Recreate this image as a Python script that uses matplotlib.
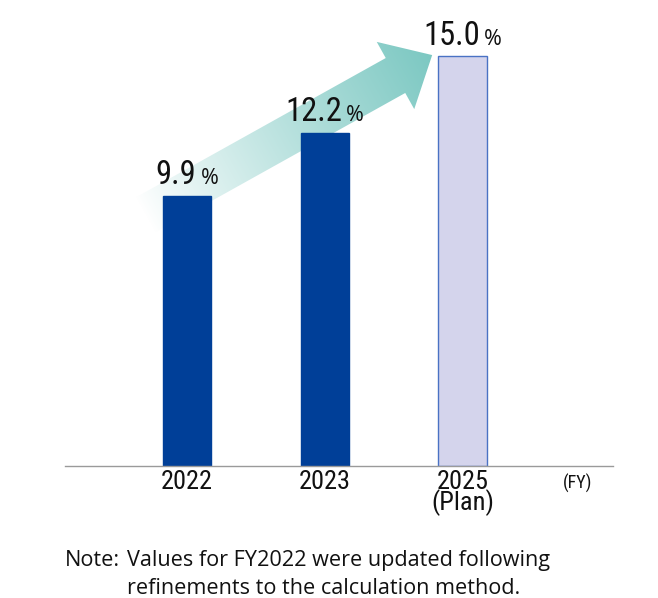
import numpy as np
import matplotlib
matplotlib.use("Agg")
import matplotlib.pyplot as plt
from matplotlib import font_manager
from matplotlib.font_manager import FontProperties
from matplotlib.patches import Polygon
from matplotlib.offsetbox import TextArea, HPacker, AnnotationBbox

# ---------------- data ----------------
categories = ["2022", "2023", "2025\n(Plan)"]
values = [9.9, 12.2, 15.0]
value_labels = ["9.9", "12.2", "15.0"]
bar_colors = ["#003f98", "#003f98", "#d4d4ec"]
edge_colors = ["#003f98", "#003f98", "#4a72c4"]
unit_label = "(FY)"
note_prefix = "Note:"
note_lines = ["Values for FY2022 were updated following",
              "refinements to the calculation method."]


# ---------------- fonts ----------------
def _is_regular(f):
    w = f.weight
    ok_w = (w in (400, "normal", "regular", "book", "Regular"))
    return f.style == "normal" and ok_w


def _is_condensed(f):
    st = f.stretch
    nm = f.name.lower()
    fn = f.fname.lower()
    if "narrow" in nm or "condensed" in nm or "narrow" in fn or "condensed" in fn:
        return True
    if isinstance(st, str) and "condensed" in st:
        return True
    if isinstance(st, (int, float)) and st < 500:
        return True
    return False


def find_condensed():
    prio = ["liberation sans narrow", "roboto condensed", "noto sans",
            "open sans", "dejavu sans"]
    cands = [f for f in font_manager.fontManager.ttflist
             if _is_regular(f) and _is_condensed(f)]
    for p in prio:
        for f in cands:
            if f.name.lower().startswith(p):
                low = f.fname.lower()
                if "extra" in low or "ultra" in low or "semi" in low:
                    continue
                return f.fname, True
    for f in cands:
        return f.fname, True
    return None, False


names = {f.name for f in font_manager.fontManager.ttflist}
cond_file, have_cond = find_condensed()
REG = "Open Sans" if "Open Sans" in names else "DejaVu Sans"


def narrow_fp(size):
    if have_cond:
        return FontProperties(fname=cond_file, size=size)
    fam = "Liberation Sans" if "Liberation Sans" in names else "DejaVu Sans"
    return FontProperties(family=fam, size=size * 0.85)


W, H = 658, 598
fig = plt.figure(figsize=(W / 100, H / 100), dpi=100)
fig.patch.set_facecolor("white")

# main axes
ax = fig.add_axes([65 / W, 1 - 466 / H, (613 - 65) / W, (466 - 10) / H])
ax.set_zorder(2)
ax.patch.set_alpha(0)
x = np.arange(len(values))
ax.set_xlim(-0.886, 3.093)
ax.set_ylim(0, 16.70)

ax.bar(x, values, width=0.35, color=bar_colors, edgecolor=edge_colors,
       linewidth=1.0, zorder=2)

for s in ["top", "right", "left"]:
    ax.spines[s].set_visible(False)
ax.spines["bottom"].set_color("#9a9a9a")
ax.spines["bottom"].set_linewidth(1.0)
ax.set_yticks([])
ax.set_xticks(x)
ax.set_xticklabels(categories, color="#111111", linespacing=0.78)
for lbl in ax.get_xticklabels():
    lbl.set_fontproperties(narrow_fp(19))
ax.tick_params(axis="x", length=0, pad=3)

ax.text((578 - 65) / 548, -(483 - 466) / 456, unit_label, transform=ax.transAxes,
        ha="center", va="center", fontproperties=narrow_fp(13), color="#111111")

# value labels
for xi, v, lab in zip(x, values, value_labels):
    t1 = TextArea(lab, textprops=dict(fontproperties=narrow_fp(23.5), color="#111111"))
    t2 = TextArea("%", textprops=dict(fontsize=15.5, family=REG, color="#111111"))
    pk = HPacker(children=[t1, t2], align="baseline", pad=0, sep=3)
    ab = AnnotationBbox(pk, (xi, v), xybox=(0, 3.5), xycoords="data",
                        boxcoords="offset points", box_alignment=(0.5, 0),
                        frameon=False, pad=0, zorder=5)
    ax.add_artist(ab)

# ---------------- gradient arrow (decoration, behind bars) ----------------
ov = fig.add_axes([0, 0, 1, 1], zorder=1)
ov.set_xlim(0, W)
ov.set_ylim(H, 0)
ov.axis("off")


def to_px(pt):
    dx, dy = ax.transData.transform(pt)
    return np.array([dx, H - dy])


tail = to_px((x[0] - 0.30, values[0] - 0.7))
tip = to_px((x[2] - 0.22, values[2] + 0.05))
vec = tip - tail
L = np.hypot(*vec)
u = vec / L
n = np.array([-u[1], u[0]])
head_len, shaft_hw, head_hw = 42, 20, 38.5
base = tip - head_len * u
pts = [tail + shaft_hw * n, base + shaft_hw * n, base + head_hw * n, tip,
       base - head_hw * n, base - shaft_hw * n, tail - shaft_hw * n]

yy, xx = np.mgrid[0:H, 0:W] + 0.5
tt = np.clip(((xx - tail[0]) * u[0] + (yy - tail[1]) * u[1]) / L, 0, 1)
c0 = np.array([1.0, 1.0, 1.0])
c1 = np.array(matplotlib.colors.to_rgb("#7cc8c2"))
g = tt ** 0.9
img = (1 - g)[..., None] * c0 + g[..., None] * c1
im = ov.imshow(img, extent=[0, W, H, 0], origin="upper", interpolation="bilinear")
ov.set_aspect("auto")
ov.set_xlim(0, W)
ov.set_ylim(H, 0)
poly = Polygon(pts, closed=True, facecolor="none", edgecolor="none")
ov.add_patch(poly)
im.set_clip_path(poly)

# ---------------- note ----------------
fig.text(65 / W, 1 - 566 / H, note_prefix, ha="left", va="baseline",
         fontsize=15.6, family=REG, color="#111111")
for i, line in enumerate(note_lines):
    fig.text(127 / W, 1 - (566 + 28 * i) / H, line, ha="left", va="baseline",
             fontsize=15.6, family=REG, color="#111111")

fig.savefig("out.png", dpi=100, facecolor="white")
